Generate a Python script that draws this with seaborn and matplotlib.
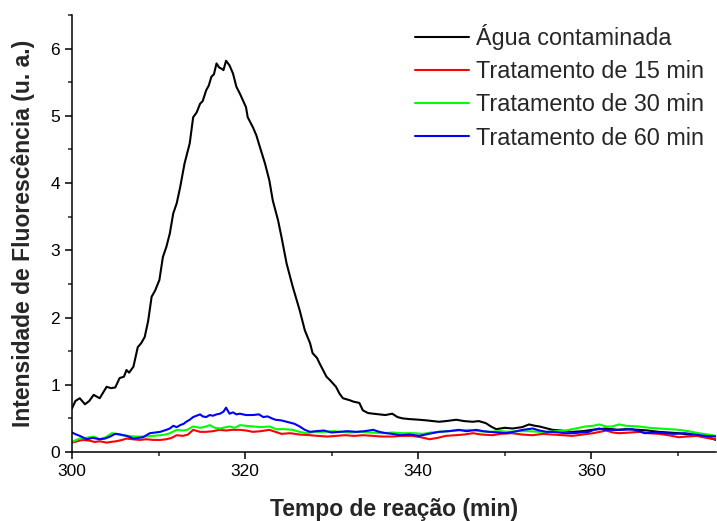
import numpy as np
import pandas as pd
import matplotlib
matplotlib.use("Agg")
import matplotlib.pyplot as plt
import seaborn as sns
from matplotlib.ticker import MultipleLocator

# Fluorescence readings (time in min, intensity in a.u.)
agua_t = [300.0, 300.4, 300.9, 301.5, 302.0, 302.5, 303.2, 304.0, 304.5, 305.0, 305.5, 306.0, 306.3, 306.6,
          307.1, 307.6, 308.0, 308.4, 308.8, 309.2, 309.6, 310.1, 310.5, 310.9, 311.3, 311.7, 312.1, 312.5,
          313.0, 313.6, 314.0, 314.4, 314.8, 315.1, 315.5, 315.8, 316.1, 316.4, 316.7, 317.0, 317.3, 317.5,
          317.8, 318.2, 318.6, 319.0, 319.4, 320.1, 320.3, 320.9, 321.3, 321.7, 322.3, 322.8, 323.2, 323.8,
          324.2, 324.8, 325.5, 326.3, 326.9, 327.5, 327.8, 328.3, 328.6, 329.0, 329.4, 329.8, 330.5, 330.9,
          331.3, 332.1, 332.5, 333.2, 333.6, 334.2, 334.8, 335.5, 336.2, 337.0, 337.6, 338.2, 339.0, 340.1,
          341.0, 342.4, 343.2, 344.4, 345.3, 346.3, 347.0, 347.8, 348.4, 349.0, 350.0, 350.9, 352.0, 352.8,
          353.5, 354.0, 355.5, 356.5, 357.8, 359.0, 360.1, 361.7, 363.0, 364.0, 365.5, 366.5, 367.8, 369.0,
          370.1, 371.2, 372.4, 373.4, 374.4]
agua_y = [0.65, 0.76, 0.80, 0.71, 0.76, 0.85, 0.80, 0.97, 0.95, 0.96, 1.10, 1.12, 1.22, 1.18,
          1.27, 1.56, 1.62, 1.71, 1.95, 2.31, 2.40, 2.56, 2.90, 3.05, 3.25, 3.55, 3.70, 3.94,
          4.29, 4.59, 4.98, 5.05, 5.18, 5.22, 5.38, 5.45, 5.58, 5.62, 5.78, 5.72, 5.70, 5.68,
          5.82, 5.75, 5.63, 5.43, 5.33, 5.13, 4.98, 4.83, 4.71, 4.54, 4.29, 4.04, 3.74, 3.45,
          3.20, 2.80, 2.46, 2.11, 1.81, 1.62, 1.47, 1.40, 1.32, 1.22, 1.12, 1.07, 0.97, 0.87,
          0.80, 0.77, 0.75, 0.73, 0.62, 0.58, 0.57, 0.56, 0.55, 0.57, 0.52, 0.50, 0.49, 0.48,
          0.47, 0.45, 0.46, 0.48, 0.46, 0.45, 0.46, 0.43, 0.38, 0.34, 0.36, 0.35, 0.37, 0.41,
          0.39, 0.38, 0.33, 0.32, 0.30, 0.31, 0.33, 0.35, 0.33, 0.34, 0.33, 0.32, 0.30, 0.29,
          0.28, 0.26, 0.24, 0.22, 0.18]

t15_t = [300.0, 300.6, 301.2, 302.0, 302.6, 303.2, 304.0, 304.5, 305.1, 305.8, 306.3, 307.0, 307.8, 308.6,
         309.4, 310.2, 310.9, 311.5, 312.1, 312.8, 313.4, 314.0, 314.8, 315.5, 316.3, 317.0, 317.8, 318.5,
         319.4, 320.1, 320.9, 321.8, 322.8, 323.5, 324.2, 325.2, 326.3, 327.5, 328.4, 329.5, 330.5, 331.5,
         332.6, 333.6, 334.8, 335.8, 337.0, 338.0, 339.3, 340.3, 341.3, 342.2, 343.2, 344.3, 345.3, 346.3,
         347.3, 348.6, 349.5, 350.8, 352.0, 353.2, 354.4, 355.5, 356.7, 357.8, 359.0, 360.2, 361.0, 361.7,
         362.5, 363.2, 364.5, 365.5, 366.6, 367.8, 368.9, 370.1, 371.0, 372.2, 373.3, 374.4]
t15_y = [0.14, 0.16, 0.18, 0.17, 0.15, 0.16, 0.14, 0.15, 0.16, 0.18, 0.20, 0.19, 0.18, 0.19,
         0.18, 0.18, 0.19, 0.21, 0.25, 0.24, 0.26, 0.33, 0.30, 0.30, 0.31, 0.33, 0.32, 0.33,
         0.33, 0.32, 0.30, 0.31, 0.33, 0.30, 0.27, 0.28, 0.26, 0.25, 0.24, 0.23, 0.24, 0.25,
         0.24, 0.25, 0.24, 0.23, 0.23, 0.24, 0.24, 0.22, 0.19, 0.21, 0.24, 0.25, 0.26, 0.28,
         0.26, 0.25, 0.27, 0.28, 0.26, 0.25, 0.27, 0.26, 0.25, 0.24, 0.26, 0.28, 0.30, 0.32,
         0.29, 0.28, 0.29, 0.30, 0.28, 0.27, 0.25, 0.22, 0.23, 0.24, 0.21, 0.19]

t30_t = [300.0, 300.5, 300.9, 301.6, 302.5, 303.2, 303.9, 304.6, 305.2, 305.8, 306.5, 307.3, 308.4, 309.3,
         310.2, 310.8, 311.3, 312.1, 312.8, 313.3, 314.0, 314.8, 315.5, 315.9, 316.5, 317.1, 317.8, 318.2,
         318.8, 319.4, 320.1, 320.9, 321.8, 322.8, 323.6, 324.5, 325.5, 326.3, 327.1, 328.0, 329.1, 330.2,
         330.9, 332.0, 333.2, 334.5, 335.9, 337.0, 338.2, 339.4, 340.5, 341.5, 342.4, 343.5, 344.7, 345.9,
         347.0, 348.2, 349.5, 350.5, 351.5, 352.8, 354.0, 354.8, 356.0, 357.0, 358.2, 359.3, 360.2, 360.9,
         361.7, 362.4, 363.2, 364.0, 365.5, 366.7, 367.8, 369.0, 370.1, 371.2, 372.4, 373.5, 374.4]
t30_y = [0.15, 0.18, 0.20, 0.21, 0.23, 0.19, 0.22, 0.28, 0.27, 0.25, 0.24, 0.23, 0.23, 0.24,
         0.25, 0.26, 0.28, 0.33, 0.32, 0.33, 0.38, 0.36, 0.38, 0.40, 0.36, 0.35, 0.37, 0.38,
         0.36, 0.40, 0.39, 0.38, 0.37, 0.38, 0.34, 0.34, 0.33, 0.30, 0.28, 0.30, 0.30, 0.31,
         0.30, 0.29, 0.30, 0.29, 0.28, 0.29, 0.28, 0.28, 0.27, 0.29, 0.30, 0.31, 0.32, 0.33,
         0.31, 0.30, 0.31, 0.30, 0.31, 0.31, 0.30, 0.30, 0.31, 0.32, 0.35, 0.38, 0.39, 0.41,
         0.38, 0.38, 0.41, 0.39, 0.38, 0.36, 0.35, 0.34, 0.33, 0.31, 0.28, 0.26, 0.24]

t60_t = [300.0, 300.5, 300.9, 301.7, 302.4, 303.2, 303.8, 304.4, 305.0, 305.6, 306.3, 306.7, 307.1, 307.6,
         308.2, 308.6, 309.0, 309.6, 310.2, 310.9, 311.3, 311.7, 312.1, 312.5, 312.9, 313.2, 313.6, 314.0,
         314.4, 314.8, 315.1, 315.5, 315.9, 316.3, 316.7, 317.1, 317.5, 317.8, 318.2, 318.6, 319.0, 319.4,
         320.1, 320.9, 321.6, 322.1, 322.6, 323.1, 323.5, 324.2, 325.1, 325.7, 326.3, 326.9, 327.5, 328.2,
         329.1, 330.0, 330.9, 331.8, 332.9, 333.8, 334.8, 335.5, 336.3, 337.0, 337.9, 339.0, 340.1, 341.2,
         342.4, 343.5, 344.7, 345.6, 346.7, 347.5, 348.2, 349.2, 350.1, 351.0, 352.1, 353.2, 354.0, 354.8,
         355.5, 356.3, 357.0, 357.8, 358.8, 359.7, 360.3, 360.9, 361.6, 362.4, 363.5, 364.7, 365.5, 366.2,
         367.3, 368.5, 369.6, 370.8, 372.0, 373.1, 374.4]
t60_y = [0.29, 0.26, 0.24, 0.19, 0.21, 0.19, 0.20, 0.23, 0.27, 0.26, 0.24, 0.22, 0.20, 0.21,
         0.22, 0.25, 0.28, 0.29, 0.30, 0.33, 0.35, 0.39, 0.37, 0.40, 0.42, 0.45, 0.48, 0.52,
         0.54, 0.56, 0.53, 0.52, 0.55, 0.54, 0.56, 0.57, 0.60, 0.66, 0.57, 0.59, 0.56, 0.57,
         0.55, 0.55, 0.56, 0.52, 0.53, 0.50, 0.48, 0.47, 0.44, 0.42, 0.38, 0.33, 0.30, 0.31,
         0.32, 0.29, 0.30, 0.31, 0.30, 0.31, 0.33, 0.30, 0.28, 0.27, 0.25, 0.26, 0.24, 0.27,
         0.30, 0.31, 0.33, 0.31, 0.33, 0.31, 0.30, 0.29, 0.28, 0.30, 0.33, 0.35, 0.32, 0.30,
         0.30, 0.29, 0.28, 0.28, 0.29, 0.30, 0.33, 0.35, 0.33, 0.33, 0.33, 0.34, 0.31, 0.28,
         0.29, 0.28, 0.27, 0.28, 0.26, 0.24, 0.23]

series_names = ["Água contaminada", "Tratamento de 15 min", "Tratamento de 30 min", "Tratamento de 60 min"]
series_colors = ["#000000", "#FF0000", "#00FF00", "#0000FF"]

frames = []
for name, t, y in zip(series_names, [agua_t, t15_t, t30_t, t60_t], [agua_y, t15_y, t30_y, t60_y]):
    frames.append(pd.DataFrame({"tempo": t, "intensidade": y, "amostra": name}))
df = pd.concat(frames, ignore_index=True)

sns.set_style("ticks")
plt.rcParams["font.family"] = ["Liberation Sans", "DejaVu Sans"]

fig = plt.figure(figsize=(7.17, 5.21), dpi=100)
ax = fig.add_axes([0.1004, 0.1324, 0.8982, 0.8388])

sns.lineplot(data=df, x="tempo", y="intensidade", hue="amostra", hue_order=series_names,
             palette=dict(zip(series_names, series_colors)), sort=False, estimator=None,
             linewidth=1.5, ax=ax)

ax.set_xlim(300, 374.4)
ax.set_ylim(0, 6.5)
ax.xaxis.set_major_locator(MultipleLocator(20))
ax.xaxis.set_minor_locator(MultipleLocator(10))
ax.yaxis.set_major_locator(MultipleLocator(1))
ax.yaxis.set_minor_locator(MultipleLocator(0.5))
ax.tick_params(which="major", direction="out", length=5, width=1.1, labelsize=12.5, colors="black")
ax.tick_params(which="minor", direction="out", length=3, width=1.1)
for side in ["left", "bottom"]:
    ax.spines[side].set_linewidth(1.1)
    ax.spines[side].set_color("black")
sns.despine(ax=ax)

ax.set_xlabel("Tempo de reação (min)", fontsize=16.5, fontweight="bold", labelpad=14)
ax.set_ylabel("Intensidade de Fluorescência (u. a.)", fontsize=16.5, fontweight="bold", labelpad=11)

ax.legend(loc="upper right", bbox_to_anchor=(1.003, 1.012), frameon=False, fontsize=16.8,
          handlelength=2.3, handletextpad=0.3, labelspacing=0.44, borderaxespad=0.2)

fig.savefig("out.png", dpi=100)
